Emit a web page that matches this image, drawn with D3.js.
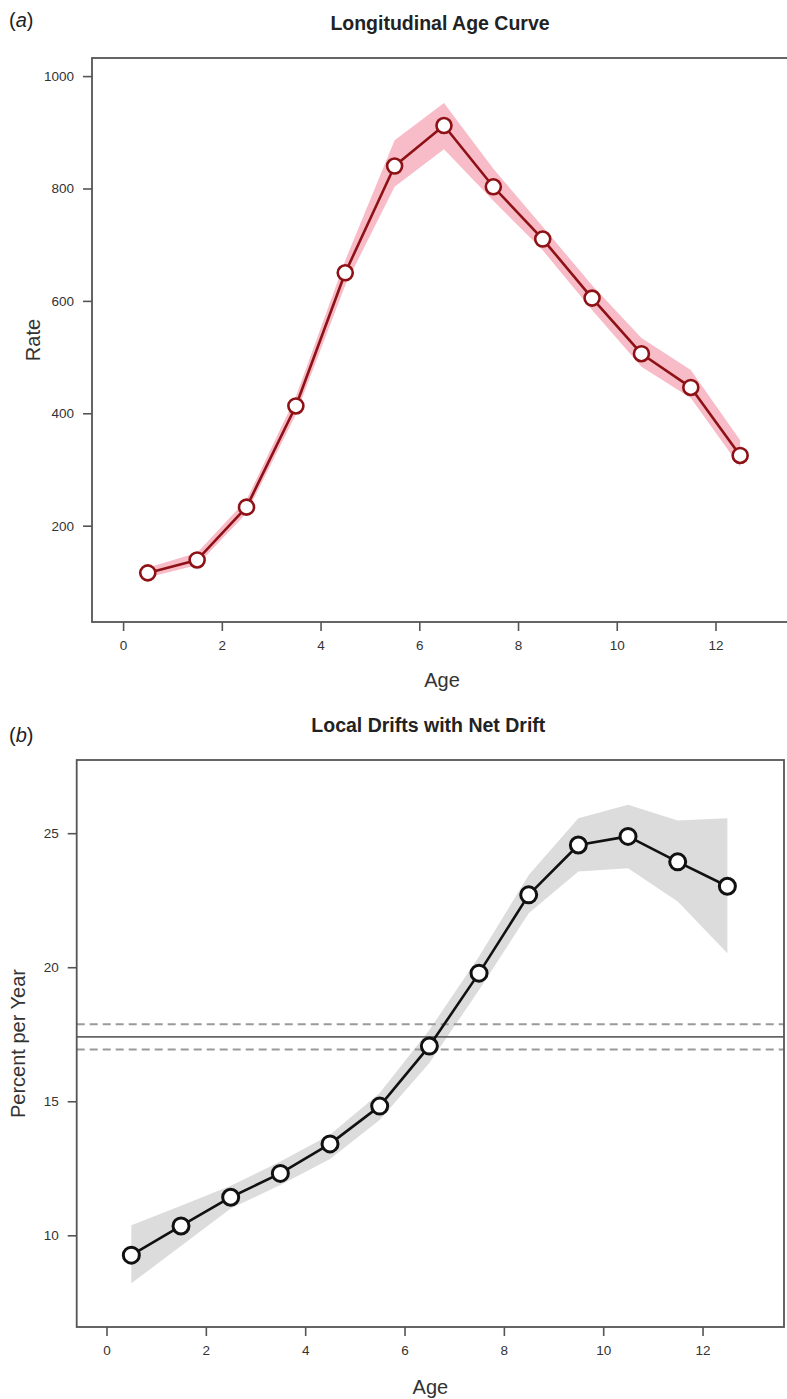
<!DOCTYPE html>
<html>
<head>
<meta charset="utf-8">
<script src="https://cdn.jsdelivr.net/npm/d3@7"></script>
<style>
  html, body { margin: 0; padding: 0; background: #fff; }
  svg { display: block; font-family: "Liberation Sans", Arial, sans-serif; }
</style>
</head>
<body>
<svg id="chart" width="787" height="1399"></svg>
<script>
// ---------- DATA ----------
const ages = [0.5, 1.5, 2.5, 3.5, 4.5, 5.5, 6.5, 7.5, 8.5, 9.5, 10.5, 11.5, 12.5];

// Panel (a): Longitudinal Age Curve
const rate      = [116, 139, 233, 413, 650, 840, 912, 803, 710, 605, 506, 446, 325];
const rateLower = [108, 130, 222, 398, 628, 803, 870, 778, 690, 584, 483, 427, 305];
const rateUpper = [125, 152, 246, 430, 672, 886, 952, 835, 732, 628, 534, 477, 352];
const rateTicks = [200, 400, 600, 800, 1000];

// Panel (b): Local Drifts with Net Drift
const drift      = [9.26, 10.35, 11.42, 12.31, 13.41, 14.82, 17.06, 19.78, 22.70, 24.56, 24.88, 23.93, 23.02];
const driftLower = [8.21, 9.60, 11.00, 11.88, 12.85, 14.30, 16.43, 19.15, 22.01, 23.57, 23.69, 22.45, 20.52];
const driftUpper = [10.38, 11.10, 11.85, 12.75, 13.75, 15.31, 17.66, 20.40, 23.44, 25.56, 26.06, 25.47, 25.56];
const netDrift = [17.40];
const netDriftCI = [16.93, 17.87];
const driftTicks = [10, 15, 20, 25];

const ageTicks = [0, 2, 4, 6, 8, 10, 12];

// ---------- DRAW ----------
const svg = d3.select("#chart");

function panel(opts) {
  const g = svg.append("g");
  const x = d3.scaleLinear().domain(opts.xDomain).range([opts.left, opts.right]);
  const y = d3.scaleLinear().domain(opts.yDomain).range([opts.bottom, opts.top]);

  // band
  const area = d3.area()
    .x((d, i) => x(ages[i]))
    .y0((d, i) => y(opts.lower[i]))
    .y1((d, i) => y(opts.upper[i]));
  g.append("path").datum(opts.values).attr("d", area).attr("fill", opts.bandColor);

  // reference lines
  if (opts.refLines) opts.refLines(g, x, y);

  // line
  const line = d3.line().x((d, i) => x(ages[i])).y(d => y(d));
  g.append("path").datum(opts.values).attr("d", line)
    .attr("fill", "none").attr("stroke", opts.lineColor).attr("stroke-width", 2.6)
    .attr("stroke-linejoin", "round");

  // points
  g.selectAll("circle.pt").data(opts.values).join("circle").attr("class", "pt")
    .attr("cx", (d, i) => x(ages[i])).attr("cy", d => y(d)).attr("r", opts.r)
    .attr("fill", "#fff").attr("stroke", opts.lineColor).attr("stroke-width", opts.pw);

  // frame
  g.append("rect").attr("x", opts.left).attr("y", opts.top)
    .attr("width", opts.right - opts.left).attr("height", opts.bottom - opts.top)
    .attr("fill", "none").attr("stroke", "#555").attr("stroke-width", 1.8);

  // axes
  const xAxis = g.append("g").attr("transform", `translate(0,${opts.bottom})`)
    .call(d3.axisBottom(x).tickValues(ageTicks).tickSize(9).tickPadding(9).tickFormat(d3.format("d")));
  const yAxis = g.append("g").attr("transform", `translate(${opts.left},0)`)
    .call(d3.axisLeft(y).tickValues(opts.yTicks).tickSize(9).tickPadding(9).tickFormat(d3.format("d")));
  [xAxis, yAxis].forEach(a => {
    a.select(".domain").remove();
    a.selectAll(".tick line").attr("stroke", "#555").attr("stroke-width", 1.6);
    a.selectAll(".tick text").attr("fill", "#333").style("font-size", "13.5px")
      .style("font-family", "'Liberation Sans', Arial, sans-serif");
  });

  // titles and labels
  g.append("text").attr("x", (opts.left + opts.right) / 2 - 2).attr("y", opts.titleY)
    .attr("text-anchor", "middle").style("font-size", "19.5px").style("font-weight", "bold")
    .attr("fill", "#222").text(opts.title);
  g.append("text").attr("x", 9).attr("y", opts.tagY)
    .style("font-size", "20px").attr("fill", "#222")
    .call(t => {
      t.append("tspan").text("(");
      t.append("tspan").style("font-style", "italic").text(opts.tag);
      t.append("tspan").text(")");
    });
  g.append("text").attr("x", (opts.left + opts.right) / 2).attr("y", opts.xLabelY)
    .attr("text-anchor", "middle").style("font-size", "20px").attr("fill", "#333").text("Age");
  g.append("text")
    .attr("transform", `translate(${opts.yLabelX},${(opts.top + opts.bottom) / 2}) rotate(-90)`)
    .attr("text-anchor", "middle").style("font-size", "20px").attr("fill", "#333").text(opts.yLabel);
}

panel({
  left: 92, right: 792, top: 58, bottom: 622,
  xDomain: [-0.63, 13.55], yDomain: [28.6, 1032.2],
  values: rate, lower: rateLower, upper: rateUpper, yTicks: rateTicks,
  bandColor: "#f7bcc7", lineColor: "#8e1116", r: 7.5, pw: 2.6,
  title: "Longitudinal Age Curve", titleY: 30, tag: "a", tagY: 27,
  xLabelY: 687, yLabel: "Rate", yLabelX: 40
});

panel({
  left: 76.7, right: 784, top: 760, bottom: 1327,
  xDomain: [-0.6, 13.64], yDomain: [6.58, 27.73],
  values: drift, lower: driftLower, upper: driftUpper, yTicks: driftTicks,
  bandColor: "#dcdcdc", lineColor: "#111", r: 8, pw: 3,
  title: "Local Drifts with Net Drift", titleY: 732, tag: "b", tagY: 742,
  xLabelY: 1394, yLabel: "Percent per Year", yLabelX: 25,
  refLines: (g, x, y) => {
    const [x0, x1] = x.range();
    g.selectAll("line.ci").data(netDriftCI).join("line").attr("class", "ci")
      .attr("x1", x0).attr("x2", x1).attr("y1", d => y(d)).attr("y2", d => y(d))
      .attr("stroke", "#9a9a9a").attr("stroke-width", 2).attr("stroke-dasharray", "8,5");
    g.selectAll("line.net").data(netDrift).join("line").attr("class", "net")
      .attr("x1", x0).attr("x2", x1).attr("y1", d => y(d)).attr("y2", d => y(d))
      .attr("stroke", "#666").attr("stroke-width", 1.8);
  }
});
</script>
</body>
</html>
